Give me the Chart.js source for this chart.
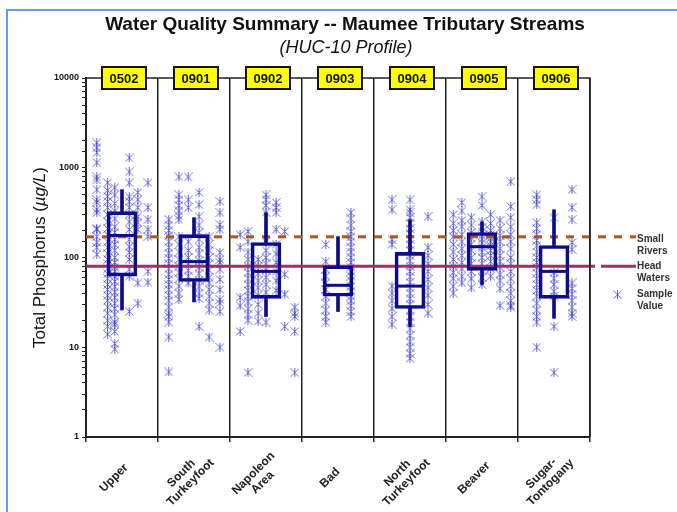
<!DOCTYPE html>
<html>
<head>
<meta charset="utf-8">
<script src="https://cdn.jsdelivr.net/npm/chart.js@4.4.0/dist/chart.umd.min.js"></script>
<style>
  html, body { margin: 0; padding: 0; background: #fff; overflow: hidden; }
  #wrap { position: relative; width: 677px; height: 512px; }
  #frame { position: absolute; left: 6px; top: 9px; width: 700px; height: 600px; border: 2px solid #6b9bd8; box-sizing: border-box; }
  #c { position: absolute; left: 0; top: 0; }
</style>
</head>
<body>
<div id="wrap"><div id="frame"></div><canvas id="c" width="677" height="512"></canvas></div>
<script>
const categories = [['Upper'], ['South', 'Turkeyfoot'], ['Napoleon', 'Area'], ['Bad'], ['North', 'Turkeyfoot'], ['Beaver'], ['Sugar-', 'Tontogany']]
const hucCodes = ['0502', '0901', '0902', '0903', '0904', '0905', '0906']

// box plot summary per stream (ug/L)
const whiskerLow = [26, 32, 22, 25, 17, 50, 21]
const q1 = [62, 54, 35, 37, 27, 72, 35]
const median = [176, 90, 70, 49, 48, 132, 70]
const q3 = [325, 180, 147, 81, 114, 190, 136]
const whiskerHigh = [570, 278, 316, 171, 264, 250, 341]

const smallRivers = 170
const headWaters = 80

// samples: [offset inside the category, values]
const samplesUpper = [
  [-0.35, [1900, 1670, 1470, 1140, 790, 735, 570, 440, 410, 341, 316, 211, 205, 171, 147, 130, 108]],
  [-0.2, [680, 560, 480, 420, 360, 300, 250, 210, 180, 150, 130, 110, 95, 85, 75, 66, 58, 50, 44, 38, 33, 28, 24, 20, 17, 14]],
  [-0.1, [600, 500, 400, 330, 270, 220, 190, 160, 140, 120, 100, 88, 78, 70, 62, 54, 47, 41, 36, 31, 27, 23, 19, 18, 15, 11, 9.5]],
  [0.1, [1290, 900, 680, 475, 420, 360, 300, 250, 205, 158, 132, 114, 95, 74, 62, 25]],
  [0.22, [530, 440, 360, 285, 245, 205, 52, 31]],
  [0.36, [680, 360, 264, 205, 171, 70, 53]],
]
const samplesSouth = [
  [-0.35, [264, 230, 200, 175, 150, 130, 112, 98, 85, 75, 65, 57, 50, 44, 38, 33, 28, 24, 22, 19, 13, 5.3]],
  [-0.21, [790, 500, 440, 380, 330, 290, 264, 170, 140, 115, 95, 80, 68, 58, 48, 40, 34]],
  [-0.08, [790, 440, 360, 150, 120, 100, 85, 72, 62, 52]],
  [0.07, [530, 388, 285, 230, 190, 160, 130, 110, 92, 78, 66, 56, 47, 40, 35, 17]],
  [0.21, [170, 140, 120, 100, 85, 72, 60, 52, 44, 37, 31, 26, 13]],
  [0.36, [420, 316, 232, 205, 114, 95, 88, 74, 57, 44, 34, 31, 25, 10]],
]
const samplesNapoleon = [
  [-0.36, [180, 130, 36, 29, 15]],
  [-0.25, [195, 150, 115, 95, 80, 68, 58, 50, 43, 37, 32, 27, 23, 20, 5.2]],
  [-0.11, [95, 80, 66, 55, 46, 38, 30, 24, 19.5]],
  [0, [500, 440, 380, 320, 150, 120, 100, 85, 72, 60, 50, 41, 19]],
  [0.14, [410, 360, 316, 205, 140, 110, 88, 70, 55, 43]],
  [0.26, [195, 65, 39, 17]],
  [0.4, [28, 24, 22, 15, 5.2]],
]
const samplesBad = [
  [-0.17, [140, 90, 74, 62, 52, 44, 37, 31, 26, 22, 19]],
  [0.18, [316, 270, 230, 195, 170, 150, 130, 115, 100, 88, 78, 70, 62, 55, 48, 42, 37, 33, 29, 25, 22]],
]
const samplesNorth = [
  [-0.25, [440, 341, 158, 140, 48, 40, 33, 27, 22, 18]],
  [0, [440, 341, 316, 280, 240, 210, 185, 160, 140, 120, 105, 92, 80, 70, 61, 53, 46, 40, 35, 30, 26, 22, 19, 16, 13.5, 11.5, 10, 8.5, 7.5]],
  [0.25, [285, 130, 105, 85, 70, 57, 46, 38, 30, 24]],
]
const samplesBeaver = [
  [-0.4, [300, 240, 200, 170, 140, 115, 95, 80, 68, 58, 48, 40]],
  [-0.28, [410, 330, 260, 220, 180, 150, 125, 105, 88, 75, 62, 52]],
  [-0.15, [280, 230, 190, 165, 140, 120, 100, 85, 70, 58, 46]],
  [0, [475, 380, 250, 215, 195, 175, 160, 145, 130, 115, 100, 85, 72, 60, 50]],
  [0.12, [300, 240, 200, 180, 165, 150, 135, 120, 105, 90, 75, 62]],
  [0.25, [260, 210, 175, 150, 125, 105, 90, 78, 65, 55, 45, 29]],
  [0.4, [700, 370, 280, 220, 180, 150, 125, 100, 85, 70, 58, 48, 40, 33, 29, 28]],
]
const samplesSugar = [
  [-0.24, [500, 440, 388, 245, 210, 180, 155, 135, 115, 100, 88, 77, 67, 58, 50, 43, 37, 31, 26, 22, 19, 10]],
  [0, [278, 68, 58, 50, 42, 37, 17, 5.2]],
  [0.25, [570, 360, 264, 147, 123, 52, 45, 39, 33, 28, 24, 22]],
]
const samples = [samplesUpper, samplesSouth, samplesNapoleon, samplesBad, samplesNorth, samplesBeaver, samplesSugar]

const boxColor = '#0d0d8c'
const font = 'Liberation Sans'

function makeStar(size, color) {
  const c = document.createElement('canvas')
  c.width = size
  c.height = size
  const g = c.getContext('2d')
  g.strokeStyle = color
  g.lineWidth = 1
  const m = size / 2
  g.beginPath()
  g.moveTo(0.5, 0.5); g.lineTo(size - 0.5, size - 0.5)
  g.moveTo(size - 0.5, 0.5); g.lineTo(0.5, size - 0.5)
  g.moveTo(m, 0); g.lineTo(m, size)
  g.stroke()
  return c
}
const star = makeStar(9, 'rgba(45,45,200,0.72)')

const points = []
samples.forEach((cols, i) => {
  cols.forEach(([off, vals]) => {
    vals.forEach(v => points.push({ x: i + off, y: v }))
  })
})

const extras = {
  id: 'extras',
  afterDatasetDraw(chart, args) {
    if (args.meta.type !== 'scatter') return
    const { ctx, chartArea, scales } = chart
    const ys = scales.y.getPixelForValue(smallRivers)
    const yh = scales.y.getPixelForValue(headWaters)
    ctx.save()
    ctx.lineWidth = 3
    ctx.strokeStyle = '#b0561c'
    ctx.setLineDash([8, 8])
    ctx.beginPath(); ctx.moveTo(chartArea.left, ys); ctx.lineTo(636, ys); ctx.stroke()
    ctx.setLineDash([])
    ctx.strokeStyle = '#993366'
    ctx.beginPath(); ctx.moveTo(chartArea.left, yh); ctx.lineTo(595, yh); ctx.stroke()
    ctx.beginPath(); ctx.moveTo(601, yh); ctx.lineTo(636, yh); ctx.stroke()
    ctx.restore()
  },
  afterDatasetsDraw(chart) {
    const { ctx, scales } = chart
    ctx.save()
    ctx.strokeStyle = boxColor
    ctx.lineWidth = 3
    median.forEach((m, i) => {
      const x = scales.x.getPixelForValue(i)
      const y = scales.y.getPixelForValue(m)
      ctx.beginPath(); ctx.moveTo(x - 15, y); ctx.lineTo(x + 15, y); ctx.stroke()
    })
    ctx.restore()
  },
  afterDraw(chart) {
    const { ctx, chartArea, scales } = chart
    ctx.save()
    // frame top / right
    ctx.strokeStyle = '#222'
    ctx.lineWidth = 1.5
    ctx.beginPath()
    ctx.moveTo(chartArea.left, chartArea.top)
    ctx.lineTo(chartArea.right, chartArea.top)
    ctx.lineTo(chartArea.right, chartArea.bottom)
    ctx.stroke()

    // HUC code tags
    ctx.font = `bold 13px ${font}`
    ctx.textAlign = 'center'
    ctx.textBaseline = 'middle'
    hucCodes.forEach((code, i) => {
      const x = scales.x.getPixelForValue(i) + 2
      ctx.fillStyle = '#ffff00'
      ctx.fillRect(x - 22, chartArea.top - 11, 44, 22)
      ctx.strokeStyle = '#111'
      ctx.lineWidth = 2
      ctx.strokeRect(x - 22, chartArea.top - 11, 44, 22)
      ctx.fillStyle = '#111'
      ctx.fillText(code, x, chartArea.top + 1)
    })

    // category labels, rotated and centred like the original
    ctx.font = `bold 12px ${font}`
    ctx.fillStyle = '#222'
    categories.forEach((lines, i) => {
      const x = scales.x.getPixelForValue(i) - 8
      ctx.save()
      ctx.translate(x, chartArea.bottom + 41)
      ctx.rotate(-Math.PI / 4)
      lines.forEach((t, k) => ctx.fillText(t, 0, (k - (lines.length - 1) / 2) * 13))
      ctx.restore()
    })

    // titles
    ctx.fillStyle = '#111'
    ctx.font = `bold 19px ${font}`
    ctx.fillText('Water Quality Summary -- Maumee Tributary Streams', 345, 25)
    ctx.font = `italic 18px ${font}`
    ctx.fillText('(HUC-10 Profile)', 346, 48)

    // y axis title with italic unit
    const parts = [['Total Phosphorus (', ''], ['\u00b5g/L', 'italic '], [')', '']]
    ctx.translate(40, (chartArea.top + chartArea.bottom) / 2)
    ctx.rotate(-Math.PI / 2)
    let w = 0
    parts.forEach(([t, s]) => { ctx.font = `${s}17px ${font}`; w += ctx.measureText(t).width })
    let x0 = -w / 2
    ctx.textAlign = 'left'
    parts.forEach(([t, s]) => {
      ctx.font = `${s}17px ${font}`
      ctx.fillText(t, x0, 0)
      x0 += ctx.measureText(t).width
    })
    ctx.setTransform(1, 0, 0, 1, 0, 0)

    // legend
    const ys = scales.y.getPixelForValue(smallRivers)
    const yh = scales.y.getPixelForValue(headWaters)
    ctx.fillStyle = '#333'
    ctx.font = `bold 10px ${font}`
    ctx.textAlign = 'left'
    ctx.fillText('Small', 637, ys + 2)
    ctx.fillText('Rivers', 637, ys + 14)
    ctx.fillText('Head', 637, yh)
    ctx.fillText('Waters', 637, yh + 12)
    ctx.fillText('Sample', 637, yh + 28)
    ctx.fillText('Value', 637, yh + 40)
    ctx.drawImage(star, 613, yh + 24)
    ctx.restore()
  },
}

new Chart(document.getElementById('c'), {
  type: 'bar',
  data: {
    labels: categories,
    datasets: [
      {
        type: 'scatter',
        data: points,
        xAxisID: 'xs',
        pointStyle: star,
        order: 3,
      },
      {
        data: whiskerLow.map((v, i) => [v, q1[i]]),
        backgroundColor: boxColor,
        barThickness: 3,
        grouped: false,
        order: 1,
      },
      {
        data: whiskerHigh.map((v, i) => [q3[i], v]),
        backgroundColor: boxColor,
        barThickness: 3,
        grouped: false,
        order: 1,
      },
      {
        data: q1.map((v, i) => [v, q3[i]]),
        backgroundColor: 'rgba(0,0,0,0)',
        borderColor: boxColor,
        borderWidth: 3,
        borderSkipped: false,
        barThickness: 30,
        grouped: false,
        order: 0,
      },
    ],
  },
  options: {
    responsive: false,
    animation: false,
    layout: { padding: { top: 78, right: 87, left: 0, bottom: 0 } },
    plugins: {
      legend: { display: false },
      tooltip: { enabled: false },
      title: { display: false },
    },
    scales: {
      x: {
        type: 'category',
        offset: true,
        grid: { offset: true, color: '#222', lineWidth: 1.5, tickLength: 5 },
        border: { color: '#222', width: 2 },
        ticks: { display: false },
        afterFit: s => { s.height = 75 },
      },
      xs: { type: 'linear', display: false, offset: false, min: -0.5, max: 6.5 },
      y: {
        type: 'logarithmic',
        min: 1,
        max: 10000,
        grid: { drawOnChartArea: false, color: '#222', tickLength: 4 },
        border: { color: '#222', width: 2 },
        ticks: {
          autoSkip: false,
          color: '#111',
          padding: 3,
          font: { family: font, weight: 'bold', size: 9 },
          callback: v => {
            const l = Math.log10(v)
            return Math.abs(l - Math.round(l)) < 1e-9 ? String(v) : ''
          },
        },
        afterFit: s => { s.width = 86 },
      },
    },
  },
  plugins: [extras],
})
</script>
</body>
</html>
